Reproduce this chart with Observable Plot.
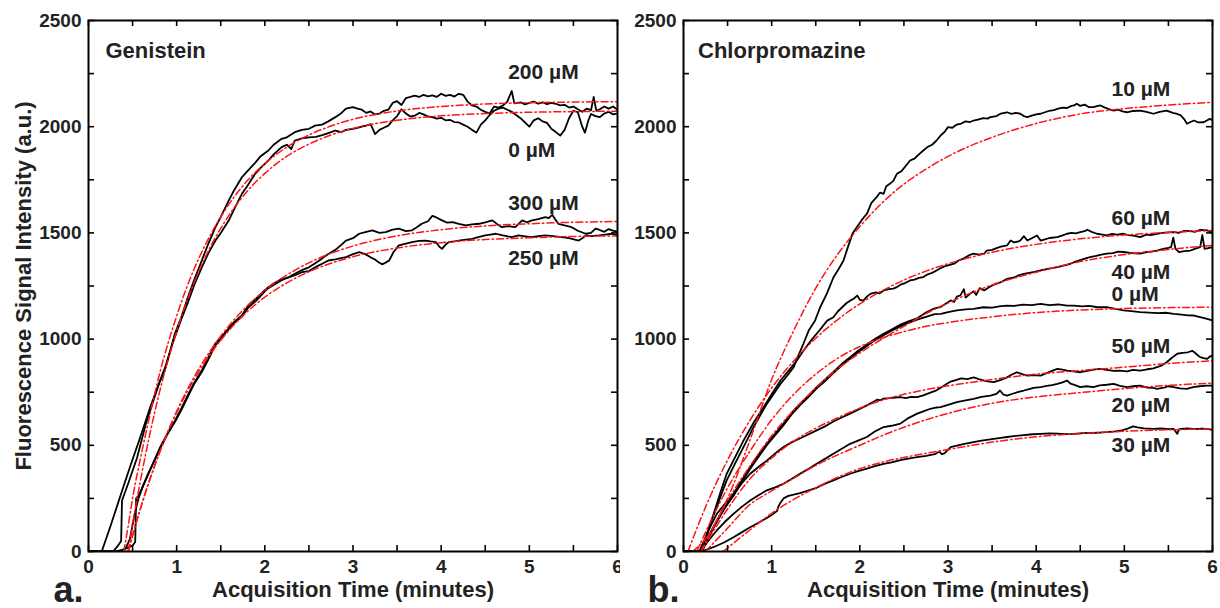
<!DOCTYPE html>
<html><head><meta charset="utf-8">
<script src="https://cdn.jsdelivr.net/npm/d3@7"></script>
<script src="https://cdn.jsdelivr.net/npm/@observablehq/plot@0.6"></script>
<style>
body{margin:0;background:#fff;}
#wrap{position:relative;width:1220px;height:608px;overflow:hidden;}
#left{position:absolute;left:0;top:0;}
#right{position:absolute;left:620px;top:0;}
</style></head><body><div id="wrap"><div id="left"></div><div id="right"></div></div>
<script>
// ---------- tick values ----------
const xTickLabels = [0,1,2,3,4,5,6];
const xTickMarks = [0,0.5,1,1.5,2,2.5,3,3.5,4,4.5,5,5.5,6];
const yTickLabels = [0,500,1000,1500,2000,2500];
const yTickMarks = [0,250,500,750,1000,1250,1500,1750,2000,2250,2500];
const xTitle = "Acquisition Time (minutes)";
const yTitle = "Fluorescence Signal Intensity (a.u.)";

// ---------- panel a: Genistein ----------
const genSeries = ["200 µM","0 µM","300 µM","250 µM"];
const gen200 = [[0,0],[0.15,0],[0.25,120],[0.38,285],[0.48,410],[0.58,530],[0.7,679],[0.78,770],[0.87,868],[0.93,950],[0.98,1026],[1.05,1100],[1.13,1200],[1.2,1280],[1.285,1370],[1.36,1450],[1.44,1527],[1.5,1575],[1.59,1652],[1.65,1700],[1.74,1762],[1.8,1790],[1.89,1830],[1.95,1860],[2.04,1888],[2.1,1915],[2.19,1943],[2.25,1950],[2.34,1974],[2.42,1985],[2.5,1990],[2.57,2005],[2.65,2010],[2.72,2025],[2.8,2045],[2.87,2065],[2.92,2085],[3.0,2092],[3.05,2085],[3.1,2080],[3.15,2065],[3.2,2072],[3.25,2058],[3.3,2062],[3.35,2075],[3.4,2080],[3.45,2112],[3.5,2120],[3.55,2102],[3.6,2135],[3.65,2140],[3.7,2146],[3.75,2140],[3.8,2150],[3.85,2143],[3.9,2147],[3.95,2140],[4.0,2155],[4.05,2145],[4.1,2150],[4.15,2142],[4.2,2155],[4.25,2150],[4.3,2118],[4.35,2100],[4.4,2095],[4.45,2080],[4.5,2070],[4.55,2062],[4.6,2095],[4.65,2090],[4.7,2100],[4.75,2118],[4.8,2168],[4.83,2110],[4.9,2115],[4.95,2105],[5.0,2112],[5.05,2118],[5.1,2108],[5.15,2115],[5.2,2106],[5.25,2112],[5.3,2108],[5.35,2100],[5.4,2103],[5.45,2090],[5.5,2095],[5.55,2082],[5.6,2070],[5.65,2085],[5.7,2078],[5.73,2140],[5.76,2075],[5.8,2082],[5.85,2095],[5.9,2085],[5.95,2095],[6.0,2080]];
const gen0 = [[0,0],[0.28,0],[0.33,25],[0.37,50],[0.38,240],[0.45,320],[0.55,440],[0.65,600],[0.72,690],[0.8,790],[0.87,860],[0.95,975],[1.05,1090],[1.13,1175],[1.2,1255],[1.285,1338],[1.36,1405],[1.44,1464],[1.5,1500],[1.59,1558],[1.65,1610],[1.74,1684],[1.8,1720],[1.89,1778],[1.95,1805],[2.04,1841],[2.1,1870],[2.19,1904],[2.25,1915],[2.3,1895],[2.34,1935],[2.42,1945],[2.5,1950],[2.58,1952],[2.65,1960],[2.72,1970],[2.8,1982],[2.87,1975],[2.92,1985],[3.0,1990],[3.05,1995],[3.1,2000],[3.15,2005],[3.2,2012],[3.25,1965],[3.3,1985],[3.35,1995],[3.4,2005],[3.45,2030],[3.5,2050],[3.55,2082],[3.6,2062],[3.65,2048],[3.7,2052],[3.75,2065],[3.8,2058],[3.85,2048],[3.9,2045],[3.95,2038],[4.0,2042],[4.05,2030],[4.1,2032],[4.15,2022],[4.2,2020],[4.25,2010],[4.3,2000],[4.35,1985],[4.4,1972],[4.45,2010],[4.5,2030],[4.55,2055],[4.6,2075],[4.65,2085],[4.7,2090],[4.75,2080],[4.8,2070],[4.85,2055],[4.9,2040],[4.95,2020],[5.0,2000],[5.05,2030],[5.1,2040],[5.15,2025],[5.2,2018],[5.25,1990],[5.3,1975],[5.35,1958],[5.4,1985],[5.45,2040],[5.5,2075],[5.55,2068],[5.6,2000],[5.63,1972],[5.67,2030],[5.7,2060],[5.75,2050],[5.8,2045],[5.85,2062],[5.9,2070],[5.95,2058],[6.0,2062]];
const gen300 = [[0,0],[0.3,0],[0.4,10],[0.5,28],[0.53,45],[0.54,250],[0.567,262],[0.68,366],[0.813,491],[0.9,560],[0.983,617],[1.06,680],[1.134,742],[1.2,795],[1.285,852],[1.36,915],[1.437,978],[1.5,1010],[1.588,1045],[1.65,1080],[1.739,1111],[1.815,1160],[1.9,1190],[2.0,1230],[2.04,1244],[2.1,1262],[2.18,1280],[2.27,1291],[2.35,1310],[2.42,1325],[2.5,1338],[2.58,1360],[2.65,1380],[2.72,1401],[2.8,1420],[2.87,1445],[2.92,1464],[3.0,1475],[3.07,1496],[3.15,1505],[3.22,1512],[3.3,1500],[3.37,1504],[3.45,1515],[3.52,1520],[3.6,1508],[3.67,1512],[3.72,1525],[3.78,1543],[3.85,1555],[3.9,1580],[3.94,1574],[4.01,1559],[4.07,1548],[4.13,1551],[4.2,1542],[4.28,1535],[4.35,1540],[4.43,1543],[4.5,1550],[4.58,1559],[4.64,1540],[4.69,1527],[4.76,1532],[4.84,1527],[4.92,1559],[4.97,1550],[5.03,1559],[5.1,1565],[5.18,1574],[5.22,1570],[5.26,1585],[5.3,1560],[5.33,1543],[5.4,1535],[5.48,1527],[5.55,1510],[5.64,1496],[5.7,1500],[5.75,1520],[5.79,1515],[5.85,1505],[5.9,1518],[5.94,1512],[6.0,1505]];
const gen250 = [[0,0],[0.35,0],[0.42,14],[0.47,60],[0.52,170],[0.567,250],[0.62,310],[0.68,370],[0.75,430],[0.813,485],[0.9,555],[0.983,612],[1.06,672],[1.134,735],[1.2,790],[1.285,845],[1.36,905],[1.437,970],[1.5,1000],[1.588,1050],[1.65,1075],[1.739,1105],[1.815,1150],[1.9,1180],[2.0,1225],[2.04,1240],[2.1,1255],[2.18,1275],[2.27,1291],[2.35,1302],[2.42,1315],[2.5,1320],[2.58,1340],[2.65,1355],[2.72,1370],[2.8,1375],[2.85,1380],[2.92,1386],[3.0,1400],[3.07,1409],[3.14,1400],[3.2,1385],[3.25,1375],[3.29,1362],[3.33,1352],[3.37,1360],[3.41,1370],[3.46,1410],[3.52,1441],[3.6,1450],[3.67,1457],[3.75,1462],[3.82,1464],[3.88,1460],[3.94,1457],[3.98,1435],[4.01,1425],[4.05,1445],[4.09,1457],[4.15,1460],[4.2,1464],[4.28,1468],[4.35,1472],[4.42,1480],[4.5,1488],[4.56,1492],[4.62,1496],[4.7,1488],[4.8,1480],[4.88,1488],[4.95,1484],[5.03,1480],[5.1,1485],[5.18,1488],[5.27,1485],[5.37,1480],[5.45,1475],[5.56,1464],[5.6,1475],[5.64,1488],[5.7,1485],[5.79,1488],[5.86,1492],[5.94,1496],[6.0,1488]];
const gen200Fit = [[0.4,0],[0.45,120],[0.5,250],[0.6,460],[0.7,650],[0.8,827],[1.0,1109],[1.2,1332],[1.4,1503],[1.6,1639],[1.8,1745],[2.0,1826],[2.25,1904],[2.5,1961],[2.75,2003],[3.0,2035],[3.5,2074],[4.0,2095],[4.5,2107],[5.0,2113],[5.5,2116],[6.0,2118]];
const gen0Fit = [[0.45,0],[0.5,127],[0.6,357],[0.8,741],[1.0,1037],[1.2,1268],[1.4,1448],[1.6,1587],[1.8,1696],[2.0,1780],[2.25,1861],[2.5,1918],[2.75,1961],[3.0,1992],[3.5,2030],[4.0,2051],[4.5,2062],[5.0,2068],[5.5,2071],[6.0,2073]];
const gen300Fit = [[0.45,0],[0.5,76],[0.6,217],[0.8,460],[1.0,660],[1.2,823],[1.4,956],[1.6,1066],[1.8,1156],[2.0,1229],[2.25,1302],[2.5,1359],[2.75,1404],[3.0,1438],[3.5,1486],[4.0,1515],[4.5,1533],[5.0,1543],[5.5,1550],[6.0,1554]];
const gen250Fit = [[0.45,0],[0.5,76],[0.6,217],[0.8,459],[1.0,654],[1.2,812],[1.4,940],[1.6,1044],[1.8,1129],[2.0,1198],[2.25,1265],[2.5,1317],[2.75,1357],[3.0,1388],[3.5,1429],[4.0,1454],[4.5,1469],[5.0,1477],[5.5,1483],[6.0,1486]];
const genLabelT = [4.76,4.76,4.76,4.76];
const genLabelV = [2255,1888,1641,1382];

// ---------- panel b: Chlorpromazine ----------
const chlSeries = ["10 µM","60 µM","40 µM","0 µM","50 µM","20 µM","30 µM"];
const chl10 = [[0,0],[0.21,0],[0.265,82],[0.32,150],[0.378,209],[0.43,270],[0.49,335],[0.58,410],[0.68,491],[0.8,590],[0.945,695],[1.02,740],[1.1,789],[1.18,830],[1.25,868],[1.3,920],[1.36,978],[1.42,1040],[1.493,1088],[1.55,1150],[1.626,1214],[1.7,1290],[1.76,1330],[1.815,1370],[1.87,1440],[1.92,1500],[1.966,1527],[2.02,1560],[2.08,1590],[2.13,1640],[2.19,1668],[2.23,1690],[2.27,1684],[2.3,1720],[2.34,1731],[2.38,1745],[2.42,1778],[2.47,1790],[2.52,1815],[2.57,1841],[2.62,1850],[2.67,1870],[2.72,1888],[2.77,1905],[2.82,1915],[2.87,1935],[2.92,1960],[2.96,1975],[3.0,1998],[3.05,1995],[3.1,2010],[3.15,2015],[3.2,2025],[3.25,2022],[3.29,2029],[3.35,2035],[3.4,2040],[3.45,2038],[3.48,2045],[3.55,2050],[3.6,2062],[3.67,2068],[3.72,2060],[3.77,2065],[3.82,2061],[3.86,2050],[3.9,2045],[3.95,2052],[4.0,2058],[4.05,2061],[4.1,2068],[4.15,2075],[4.2,2078],[4.24,2084],[4.3,2090],[4.35,2088],[4.4,2098],[4.43,2100],[4.46,2108],[4.5,2098],[4.55,2104],[4.6,2092],[4.65,2092],[4.7,2098],[4.73,2100],[4.78,2090],[4.83,2082],[4.88,2076],[4.93,2080],[4.98,2072],[5.03,2068],[5.1,2074],[5.18,2076],[5.25,2070],[5.33,2061],[5.4,2070],[5.48,2076],[5.55,2065],[5.6,2060],[5.64,2053],[5.68,2035],[5.71,2014],[5.75,2022],[5.79,2029],[5.84,2020],[5.9,2021],[5.94,2030],[5.97,2037],[6.0,2029]];
const chl60 = [[0,0],[0.2,0],[0.227,20],[0.28,95],[0.34,174],[0.42,280],[0.49,366],[0.58,440],[0.68,522],[0.8,610],[0.91,680],[1.0,740],[1.1,805],[1.2,855],[1.285,899],[1.36,945],[1.45,995],[1.55,1045],[1.63,1087],[1.7,1103],[1.75,1130],[1.8,1150],[1.85,1170],[1.89,1181],[1.93,1190],[1.97,1205],[2.0,1185],[2.04,1181],[2.08,1200],[2.12,1213],[2.18,1220],[2.22,1215],[2.27,1229],[2.33,1235],[2.38,1238],[2.42,1245],[2.47,1258],[2.52,1265],[2.57,1276],[2.62,1280],[2.67,1288],[2.72,1292],[2.77,1305],[2.82,1312],[2.87,1323],[2.92,1335],[2.96,1342],[3.0,1347],[3.07,1355],[3.12,1370],[3.18,1380],[3.24,1395],[3.29,1402],[3.35,1398],[3.41,1402],[3.44,1417],[3.5,1420],[3.55,1428],[3.6,1435],[3.67,1441],[3.71,1464],[3.75,1455],[3.8,1460],[3.82,1464],[3.86,1485],[3.9,1464],[3.95,1475],[4.01,1488],[4.05,1464],[4.1,1470],[4.15,1476],[4.24,1480],[4.3,1488],[4.35,1496],[4.4,1500],[4.45,1498],[4.5,1504],[4.55,1508],[4.58,1515],[4.63,1505],[4.69,1496],[4.75,1492],[4.8,1488],[4.86,1495],[4.92,1492],[4.99,1496],[5.05,1490],[5.12,1486],[5.18,1480],[5.25,1492],[5.3,1490],[5.37,1496],[5.43,1500],[5.5,1502],[5.56,1504],[5.62,1500],[5.68,1510],[5.75,1508],[5.8,1505],[5.86,1514],[5.94,1512],[5.98,1505],[6.0,1496]];
const chl40 = [[0,0],[0.2,0],[0.227,20],[0.3,85],[0.378,146],[0.47,210],[0.567,271],[0.66,335],[0.756,397],[0.85,455],[0.945,507],[1.04,555],[1.13,600],[1.22,650],[1.32,695],[1.42,735],[1.51,774],[1.6,808],[1.7,845],[1.8,885],[1.89,915],[1.98,945],[2.08,975],[2.17,1000],[2.27,1025],[2.36,1045],[2.46,1068],[2.56,1085],[2.65,1098],[2.75,1125],[2.85,1145],[2.92,1152],[2.97,1165],[3.03,1182],[3.07,1175],[3.1,1200],[3.14,1206],[3.18,1235],[3.2,1195],[3.25,1213],[3.29,1225],[3.32,1208],[3.36,1240],[3.41,1229],[3.47,1245],[3.53,1258],[3.6,1268],[3.67,1284],[3.75,1290],[3.8,1300],[3.86,1307],[3.92,1312],[3.98,1316],[4.05,1323],[4.12,1330],[4.18,1334],[4.24,1339],[4.3,1345],[4.37,1352],[4.43,1362],[4.5,1372],[4.56,1380],[4.61,1386],[4.68,1392],[4.74,1398],[4.8,1402],[4.87,1405],[4.93,1412],[4.99,1410],[5.06,1406],[5.12,1404],[5.18,1402],[5.25,1410],[5.31,1412],[5.37,1417],[5.44,1425],[5.5,1430],[5.53,1433],[5.555,1478],[5.58,1425],[5.62,1410],[5.68,1414],[5.75,1417],[5.8,1425],[5.86,1433],[5.885,1490],[5.91,1425],[5.95,1428],[6.0,1433]];
const chl0 = [[0,0],[0.2,0],[0.227,15],[0.3,80],[0.378,140],[0.47,205],[0.567,262],[0.66,325],[0.756,390],[0.85,445],[0.945,500],[1.04,548],[1.13,592],[1.22,642],[1.32,688],[1.42,728],[1.51,768],[1.6,800],[1.7,840],[1.8,878],[1.89,908],[1.98,938],[2.08,968],[2.17,995],[2.27,1018],[2.36,1040],[2.46,1060],[2.56,1078],[2.65,1092],[2.75,1105],[2.85,1118],[2.92,1119],[3.0,1127],[3.1,1135],[3.2,1140],[3.29,1142],[3.4,1150],[3.5,1148],[3.6,1155],[3.67,1158],[3.75,1156],[3.85,1162],[3.95,1160],[4.05,1166],[4.15,1160],[4.25,1163],[4.35,1158],[4.43,1158],[4.52,1154],[4.6,1156],[4.7,1150],[4.8,1150],[4.9,1142],[4.99,1135],[5.08,1132],[5.18,1127],[5.28,1125],[5.38,1122],[5.47,1124],[5.56,1119],[5.65,1115],[5.72,1112],[5.79,1111],[5.86,1104],[5.94,1095],[6.0,1088]];
const chl50 = [[0,0],[0.18,0],[0.2,20],[0.265,82],[0.32,130],[0.378,177],[0.47,225],[0.567,271],[0.66,320],[0.756,366],[0.85,398],[0.945,428],[1.04,462],[1.134,492],[1.23,515],[1.32,532],[1.42,552],[1.51,570],[1.6,588],[1.7,612],[1.8,632],[1.89,649],[1.98,668],[2.08,688],[2.15,704],[2.2,715],[2.23,712],[2.27,720],[2.33,722],[2.4,725],[2.46,727],[2.52,722],[2.58,728],[2.65,727],[2.72,735],[2.8,748],[2.87,759],[2.92,772],[2.97,785],[3.03,800],[3.07,805],[3.15,815],[3.22,812],[3.29,820],[3.35,812],[3.41,805],[3.47,800],[3.52,797],[3.6,808],[3.67,820],[3.72,832],[3.78,844],[3.84,835],[3.9,828],[3.97,830],[4.05,828],[4.12,840],[4.18,850],[4.24,860],[4.3,856],[4.35,852],[4.42,848],[4.5,844],[4.58,850],[4.65,856],[4.73,860],[4.8,855],[4.88,850],[4.95,852],[5.03,848],[5.1,855],[5.18,852],[5.26,858],[5.33,862],[5.37,868],[5.42,875],[5.48,891],[5.54,912],[5.6,931],[5.66,935],[5.72,938],[5.77,945],[5.79,939],[5.83,925],[5.86,915],[5.9,910],[5.94,907],[5.97,918],[6.0,923]];
const chl20 = [[0,0],[0.2,0],[0.227,20],[0.3,60],[0.378,99],[0.47,140],[0.567,177],[0.66,210],[0.756,240],[0.85,265],[0.945,288],[1.04,302],[1.134,319],[1.23,343],[1.32,366],[1.42,390],[1.51,413],[1.6,435],[1.7,460],[1.8,485],[1.89,507],[1.98,522],[2.08,539],[2.17,565],[2.27,586],[2.36,592],[2.46,602],[2.55,628],[2.65,649],[2.72,660],[2.8,672],[2.87,678],[2.915,680],[3.0,690],[3.1,703],[3.2,712],[3.29,719],[3.38,728],[3.48,734],[3.55,742],[3.59,758],[3.63,738],[3.67,734],[3.75,745],[3.8,752],[3.86,758],[3.92,765],[3.97,770],[4.05,774],[4.12,780],[4.18,783],[4.24,789],[4.3,796],[4.35,805],[4.39,790],[4.45,782],[4.5,774],[4.57,778],[4.65,774],[4.72,782],[4.8,785],[4.88,789],[4.95,780],[5.03,774],[5.1,778],[5.18,781],[5.26,772],[5.33,770],[5.37,766],[5.45,772],[5.5,778],[5.56,774],[5.63,768],[5.71,766],[5.78,774],[5.85,778],[5.94,781],[6.0,781]];
const chl30 = [[0,0],[0.2,0],[0.227,4],[0.3,15],[0.378,27],[0.47,45],[0.567,67],[0.66,90],[0.756,114],[0.85,135],[0.945,158],[1.0,172],[1.06,190],[1.08,215],[1.1,230],[1.134,250],[1.19,262],[1.25,268],[1.32,275],[1.42,288],[1.51,300],[1.6,318],[1.7,335],[1.8,352],[1.89,366],[1.98,378],[2.08,390],[2.17,402],[2.27,413],[2.36,420],[2.46,430],[2.55,437],[2.65,444],[2.75,450],[2.85,458],[2.9,470],[2.93,458],[2.96,462],[3.03,491],[3.1,498],[3.2,508],[3.29,515],[3.38,522],[3.48,528],[3.58,534],[3.67,539],[3.77,544],[3.86,548],[3.96,552],[4.05,554],[4.15,556],[4.24,555],[4.34,553],[4.43,554],[4.53,557],[4.62,558],[4.72,560],[4.8,562],[4.9,566],[4.97,570],[5.03,577],[5.1,589],[5.15,584],[5.22,580],[5.33,577],[5.42,579],[5.5,576],[5.56,577],[5.6,554],[5.62,575],[5.64,577],[5.72,579],[5.8,576],[5.88,578],[5.94,577],[6.0,572]];
const chl10Fit = [[0.1,0],[0.25,60],[0.5,250],[0.75,520],[1.0,810],[1.25,1040],[1.5,1240],[1.75,1400],[2.0,1530],[2.25,1640],[2.5,1730],[2.75,1800],[3.0,1860],[3.5,1950],[4.0,2015],[4.5,2060],[5.0,2085],[5.5,2102],[6.0,2115]];
const chl60Fit = [[0.05,0],[0.25,209],[0.5,431],[0.75,615],[1.0,770],[1.25,897],[1.5,1004],[1.75,1092],[2.0,1166],[2.25,1227],[2.5,1278],[2.75,1320],[3.0,1355],[3.5,1409],[4.0,1446],[4.5,1472],[5.0,1490],[5.5,1502],[6.0,1511]];
const chl40Fit = [[0.2,0],[0.5,240],[0.75,400],[1.0,545],[1.25,665],[1.5,770],[1.75,860],[2.0,935],[2.25,1000],[2.5,1060],[2.75,1120],[3.0,1170],[3.5,1255],[4.0,1315],[4.5,1365],[5.0,1398],[5.5,1422],[6.0,1441]];
const chl0Fit = [[0.15,0],[0.5,300],[0.75,470],[1.0,620],[1.25,740],[1.5,835],[1.75,910],[2.0,965],[2.25,1005],[2.5,1035],[2.75,1060],[3.0,1078],[3.5,1105],[4.0,1125],[4.5,1137],[5.0,1144],[5.5,1148],[6.0,1150]];
const chl50Fit = [[0.2,0],[0.5,200],[0.75,340],[1.0,440],[1.25,520],[1.5,580],[1.75,630],[2.0,675],[2.25,712],[2.5,740],[2.75,762],[3.0,780],[3.5,810],[4.0,835],[4.5,852],[5.0,868],[5.5,885],[6.0,898]];
const chl20Fit = [[0.25,0],[0.5,110],[0.75,220],[1.0,285],[1.25,345],[1.5,405],[1.75,455],[2.0,500],[2.25,545],[2.5,585],[2.75,620],[3.0,650],[3.5,698],[4.0,728],[4.5,748],[5.0,767],[5.5,782],[6.0,793]];
const chl30Fit = [[0.45,0],[0.75,100],[1.0,180],[1.25,245],[1.5,300],[1.75,350],[2.0,390],[2.25,420],[2.5,443],[2.75,462],[3.0,480],[3.5,515],[4.0,540],[4.5,555],[5.0,566],[5.5,573],[6.0,577]];
const chlLabelT = [4.855,4.855,4.855,4.855,4.855,4.855,4.855];
const chlLabelV = [2175,1570,1314,1210,965,687,499];

// ---------- drawing ----------
const FONT = "'Liberation Sans', Arial, Helvetica, sans-serif";
const INK = "#222";

function toRows(series, arrays) {
  return series.flatMap((name, i) => arrays[i].map(([t, v]) => ({t, v, name})));
}

function makePanel(o) {
  const W = o.width - o.marginLeft - o.marginRight;
  const H = 608 - 20 - 57;
  const black = toRows(o.series, o.black);
  const fits = toRows(o.series, o.fits);
  const labels = o.series.map((s, i) => ({text: s, t: o.labelT[i], v: o.labelV[i]}));
  const tickStyle = {stroke: "#000", strokeWidth: 1.6};
  const marks = [
    Plot.line(black, {x: "t", y: "v", z: "name", stroke: "#000", strokeWidth: 1.8, clip: true}),
    Plot.line(fits, {x: "t", y: "v", z: "name", stroke: "#ff1414", strokeWidth: 1.5, strokeDasharray: "7,3,1.5,3", curve: "monotone-x", clip: true}),
    Plot.frame({stroke: "#000", strokeWidth: 2}),
    Plot.ruleX(xTickMarks, {x: d => d, insetTop: H - 6, ...tickStyle}),
    Plot.ruleX(xTickMarks, {x: d => d, insetBottom: H - 6, ...tickStyle}),
    Plot.ruleY(yTickMarks, {y: d => d, insetRight: W - 6, ...tickStyle}),
    Plot.ruleY(yTickMarks, {y: d => d, insetLeft: W - 6, ...tickStyle}),
    Plot.axisX(xTickLabels, {anchor: "bottom", tickSize: 0, tickPadding: 8, fontSize: 19, fontWeight: "bold", fill: INK, label: null, tickFormat: d => String(d)}),
    Plot.axisY(yTickLabels, {anchor: "left", tickSize: 0, tickPadding: 7, fontSize: 19, fontWeight: "bold", fill: INK, label: null, tickFormat: d => String(d)}),
    Plot.text(labels, {x: "t", y: "v", text: "text", textAnchor: "start", lineAnchor: "middle", fontSize: 21, fontWeight: "bold", fill: INK}),
    Plot.text([o.title], {text: d => d, frameAnchor: "top-left", textAnchor: "start", lineAnchor: "middle", dx: o.titleDx, dy: 30, fontSize: 22, fontWeight: "bold", fill: INK}),
    Plot.text([xTitle], {text: d => d, frameAnchor: "bottom", textAnchor: "middle", lineAnchor: "middle", dy: 38, fontSize: 22, fontWeight: "bold", fill: INK}),
    Plot.text([o.letter], {text: d => d, frameAnchor: "bottom-left", textAnchor: "end", lineAnchor: "bottom", dx: o.letterDx, dy: 50, fontSize: 36, fontWeight: "bold", fill: INK})
  ];
  if (o.yTitle) {
    marks.push(Plot.text([o.yTitle], {text: d => d, frameAnchor: "left", textAnchor: "middle", lineAnchor: "middle", rotate: -90, dx: -65, fontSize: 22, fontWeight: "bold", fill: INK}));
  }
  return Plot.plot({
    width: o.width, height: 608,
    marginLeft: o.marginLeft, marginRight: o.marginRight, marginTop: 20, marginBottom: 57,
    x: {domain: [0, 6]}, y: {domain: [0, 2500]},
    style: {fontFamily: FONT, fontWeight: "bold", background: "white", overflow: "visible", color: INK},
    marks
  });
}

document.getElementById("left").append(makePanel({
  width: 620, marginLeft: 88, marginRight: 3,
  series: genSeries, black: [gen200, gen0, gen300, gen250], fits: [gen200Fit, gen0Fit, gen300Fit, gen250Fit],
  labelT: genLabelT, labelV: genLabelV, title: "Genistein", titleDx: 17, letter: "a.", letterDx: -5, yTitle
}));
document.getElementById("right").append(makePanel({
  width: 600, marginLeft: 63, marginRight: 8,
  series: chlSeries, black: [chl10, chl60, chl40, chl0, chl50, chl20, chl30], fits: [chl10Fit, chl60Fit, chl40Fit, chl0Fit, chl50Fit, chl20Fit, chl30Fit],
  labelT: chlLabelT, labelV: chlLabelV, title: "Chlorpromazine", titleDx: 14.5, letter: "b.", letterDx: -4, yTitle: null
}));
</script></body></html>
